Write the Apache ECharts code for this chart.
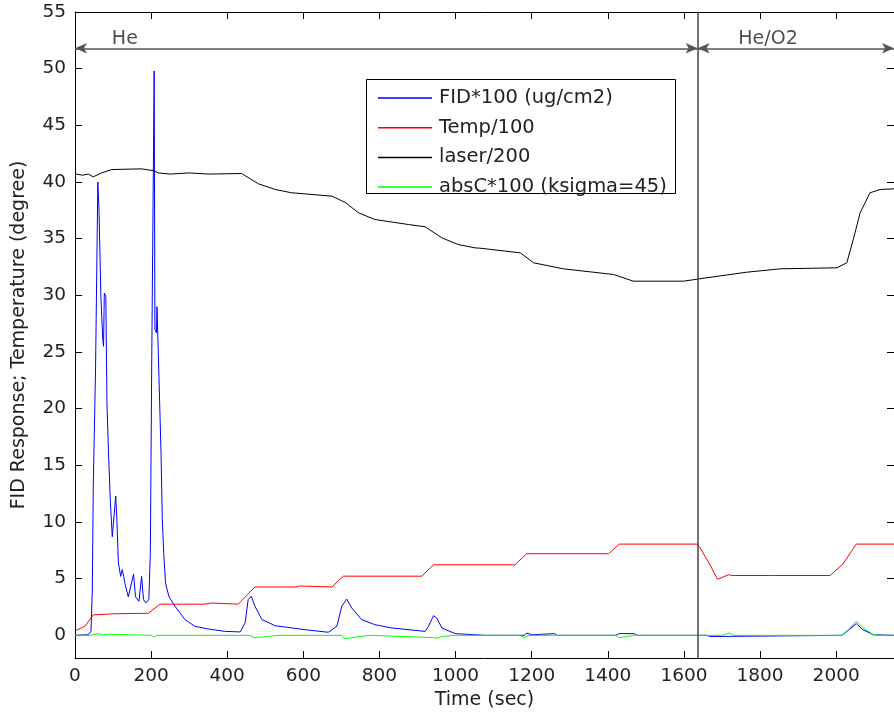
<!DOCTYPE html>
<html>
<head>
<meta charset="utf-8">
<script src="https://cdn.jsdelivr.net/npm/echarts@6/dist/echarts.min.js"></script>
<style>html,body{margin:0;padding:0;background:#fff}#c{width:894px;height:719px}</style>
</head>
<body>
<div id="c"></div>
<script>
// ---- data ----
const fidT = [0, 35, 42, 45.5, 48, 54, 60, 63, 68, 73, 75, 77, 81, 84, 88, 93, 98, 102, 107, 110, 114, 120, 124, 128, 131, 140, 145, 154, 159, 168, 175, 180, 186, 191, 194, 198, 201.5, 208, 210, 214, 215.5, 219, 222.5, 226, 229.5, 233, 238, 247, 263, 289, 315, 350, 394, 434, 447, 455, 463, 473, 491, 526, 604, 666, 688, 701, 714, 727, 753, 788, 832, 920, 929, 942, 951, 964, 999, 1078, 1180, 1187, 1200, 1260, 1267, 1420, 1430, 1470, 1477, 1660, 1668, 1695, 1700, 2015, 2030, 2053, 2070, 2098, 2152];
const fidV = [0, 0.06, 0.35, 4.0, 13.2, 23.5, 40.0, 37.6, 29.9, 26.1, 25.5, 30.2, 29.9, 20.5, 16.1, 11.7, 8.7, 8.7, 12.3, 10.2, 6.4, 5.2, 5.8, 5.2, 4.6, 3.4, 3.3, 5.4, 3.4, 3.0, 5.2, 3.15, 2.86, 2.7, 3.15, 7.3, 23.5, 49.8, 27.0, 26.7, 29.0, 29.0, 20.5, 16.1, 10.2, 7.3, 4.6, 3.4, 2.56, 1.39, 0.8, 0.56, 0.35, 0.3, 1.1, 3.15, 3.44, 2.56, 1.39, 0.85, 0.5, 0.27, 0.8, 2.56, 3.2, 2.42, 1.39, 0.94, 0.65, 0.35, 0.8, 1.74, 1.5, 0.65, 0.15, 0.0, 0.0, 0.2, 0.05, 0.15, 0.0, 0.0, 0.15, 0.15, 0.0, 0.0, -0.1, -0.1, 0.0, 0.0, 0.4, 1.03, 0.5, 0.05, 0.0];

const tempT = [0, 26, 48, 100, 193, 223, 340, 360, 429, 473, 580, 590, 675, 705, 911, 942, 1156, 1187, 1402, 1430, 1634, 1643, 1655, 1669, 1688, 1700, 1717, 1727, 1827, 1832, 1984, 2018, 2053, 2152];
const tempV = [0.4, 0.8, 1.8, 1.9, 1.95, 2.75, 2.75, 2.85, 2.75, 4.27, 4.27, 4.35, 4.27, 5.22, 5.22, 6.22, 6.22, 7.2, 7.2, 8.05, 8.05, 7.7, 7.0, 6.2, 4.95, 5.1, 5.35, 5.28, 5.28, 5.38, 5.28, 6.3, 8.05, 8.05];

const laserT = [0, 20, 35, 48, 70, 96, 175, 206, 219, 250, 300, 350, 438, 482, 526, 569, 675, 710, 745, 788, 876, 920, 964, 1007, 1051, 1064, 1170, 1205, 1283, 1415, 1467, 1599, 1660, 1765, 1853, 2002, 2028, 2045, 2063, 2089, 2116, 2152];
const laserV = [40.72, 40.6, 40.7, 40.46, 40.8, 41.1, 41.16, 41.0, 40.8, 40.7, 40.8, 40.7, 40.75, 39.84, 39.34, 39.05, 38.75, 38.2, 37.28, 36.69, 36.25, 36.05, 35.07, 34.48, 34.19, 34.16, 33.75, 32.87, 32.34, 31.84, 31.25, 31.25, 31.55, 32.04, 32.34, 32.43, 32.87, 34.92, 37.28, 39.05, 39.34, 39.4];

const absT = [0, 40, 60, 75, 90, 200, 208, 215, 460, 470, 490, 520, 540, 700, 710, 730, 760, 780, 940, 950, 965, 1000, 1170, 1180, 1190, 1200, 1420, 1430, 1450, 1470, 1660, 1700, 1720, 1730, 2015, 2035, 2053, 2070, 2095, 2110, 2152];
const absV = [0, 0, 0.15, 0.05, 0.1, 0, -0.15, 0, 0, -0.2, -0.15, -0.05, 0, 0, -0.3, -0.2, -0.05, 0, -0.2, -0.25, -0.1, 0, 0, -0.2, -0.05, 0, 0, -0.2, -0.1, 0, 0, 0, 0.2, 0, 0, 0.6, 1.25, 0.7, 0.1, 0, 0];

const seriesNames = ['FID*100 (ug/cm2)', 'Temp/100', 'laser/200', 'absC*100 (ksigma=45)'];
const xTicks = [0, 200, 400, 600, 800, 1000, 1200, 1400, 1600, 1800, 2000];
const yTicks = [0, 5, 10, 15, 20, 25, 30, 35, 40, 45, 50, 55];
const switchTime = 1636;
const arrowLevel = 51.8;
const regionLabels = [[131, 52.6, 'He'], [1821, 52.6, 'He/O2']];
const xMax = 2152;

const zip = (t, v) => t.map((x, i) => [x, v[i]]);
const FONT = 'DejaVu Sans';
const TXT = '#222';

const chart = echarts.init(document.getElementById('c'), null, {renderer: 'canvas'});
const lineSeries = (name, t, v, color) => ({
  name, type: 'line', data: zip(t, v), symbol: 'none', showSymbol: false,
  lineStyle: {color, width: 1}, itemStyle: {color}, animation: false, z: 3
});

const xCommon = {
  type: 'value', min: 0, max: xMax,
  axisLine: {onZero: false, lineStyle: {color: '#000', width: 1}},
  axisTick: {inside: true, length: 7, lineStyle: {color: '#000'}, customValues: xTicks},
  splitLine: {show: false}
};
const yCommon = {
  type: 'value', min: -2, max: 55,
  axisLine: {onZero: false, lineStyle: {color: '#000', width: 1}},
  axisTick: {inside: true, length: 7, lineStyle: {color: '#000'}, customValues: yTicks},
  splitLine: {show: false}
};

chart.setOption({
  animation: false,
  backgroundColor: '#fff',
  textStyle: {fontFamily: FONT},
  grid: {left: 75, top: 12, right: 0, bottom: 61, containLabel: false, outerBoundsMode: 'none'},
  xAxis: [
    Object.assign({}, xCommon, {
      position: 'bottom', name: 'Time (sec)', nameLocation: 'middle', nameGap: 31,
      nameTextStyle: {fontSize: 19, color: TXT, fontFamily: FONT},
      axisLabel: {fontSize: 18.5, color: TXT, margin: 9, fontFamily: FONT, customValues: xTicks, formatter: v => String(v)}
    }),
    Object.assign({}, xCommon, {position: 'top', axisLabel: {show: false}})
  ],
  yAxis: [
    Object.assign({}, yCommon, {
      position: 'left', name: 'FID Response; Temperature (degree)', nameLocation: 'middle', nameGap: 46,
      nameTextStyle: {fontSize: 19, color: TXT, fontFamily: FONT},
      axisLabel: {fontSize: 18.5, color: TXT, margin: 9, fontFamily: FONT, customValues: yTicks}
    }),
    Object.assign({}, yCommon, {position: 'right', axisLabel: {show: false}})
  ],
  legend: {
    data: seriesNames, orient: 'vertical', left: 378, top: 88, padding: 0, z: 10,
    itemWidth: 54, itemHeight: 1.5, itemGap: 9.7, icon: 'rect',
    textStyle: {fontSize: 19.5, lineHeight: 18, color: TXT, fontFamily: FONT, padding: [0, 0, 0, 2]}
  },
  graphic: [{
    type: 'rect', shape: {x: 366.5, y: 79.5, width: 309, height: 114},
    style: {fill: '#fff', stroke: '#000', lineWidth: 1}, z: 5
  }],
  series: [
    lineSeries(seriesNames[0], fidT, fidV, '#0000ff'),
    lineSeries(seriesNames[1], tempT, tempV, '#ff0000'),
    lineSeries(seriesNames[2], laserT, laserV, '#000000'),
    lineSeries(seriesNames[3], absT, absV, '#00ff00'),
    {
      name: 'annot', type: 'scatter', data: regionLabels, symbolSize: 0, silent: true,
      label: {show: true, position: 'inside', formatter: p => p.value[2], fontSize: 19, color: TXT, fontFamily: FONT},
      markLine: {
        silent: true, animation: false, symbol: ['none', 'none'],
        label: {show: false},
        lineStyle: {color: '#444', width: 1.5, type: 'solid'},
        data: [{xAxis: switchTime}]
      }
    },
    {
      name: 'arrows', type: 'line', data: [], silent: true,
      markLine: {
        silent: true, animation: false, symbol: ['arrow', 'arrow'], symbolSize: [8, 12],
        label: {show: false},
        lineStyle: {color: '#555', width: 1.5, type: 'solid'},
        data: [
          [{coord: [0, arrowLevel]}, {coord: [switchTime, arrowLevel]}],
          [{coord: [switchTime, arrowLevel]}, {coord: [xMax, arrowLevel]}]
        ]
      }
    }
  ]
});
</script>
</body>
</html>
